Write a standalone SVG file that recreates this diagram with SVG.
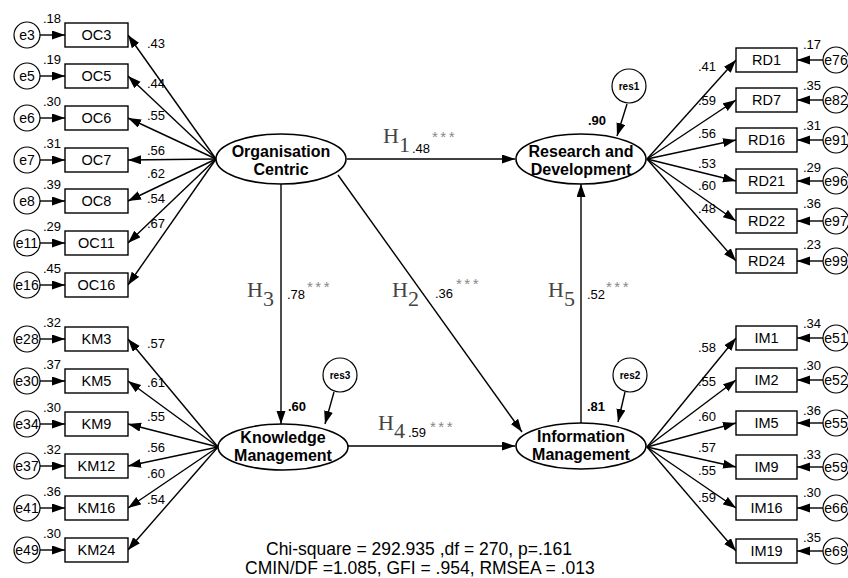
<svg xmlns="http://www.w3.org/2000/svg" width="848" height="578" viewBox="0 0 848 578">
<defs>
<marker id="ah" markerUnits="userSpaceOnUse" markerWidth="14" markerHeight="10" refX="13" refY="4.5" orient="auto">
<path d="M0,0 L13,4.5 L0,9 z" fill="#000"/>
</marker>
<style>
.ln{stroke:#000;stroke-width:1.4;fill:none;marker-end:url(#ah)}
.bx{fill:#fff;stroke:#000;stroke-width:1.4}
.ci{fill:#fff;stroke:#000;stroke-width:1.2}
.el{fill:#fff;stroke:#000;stroke-width:1.6}
.bt{font-family:"Liberation Sans",Arial,sans-serif;font-size:14.5px;text-anchor:middle;fill:#000}
.et{font-family:"Liberation Sans",Arial,sans-serif;font-size:14px;text-anchor:middle;fill:#000}
.nt{font-family:"Liberation Sans",Arial,sans-serif;font-size:13px;fill:#000}
.lt{font-family:"Liberation Sans",Arial,sans-serif;font-size:16px;font-weight:bold;text-anchor:middle;fill:#000}
.rt{font-family:"Liberation Sans",Arial,sans-serif;font-size:10px;font-weight:bold;text-anchor:middle;fill:#000}
.bn{font-family:"Liberation Sans",Arial,sans-serif;font-size:13px;font-weight:bold;fill:#000}
.h{font-family:"Liberation Serif","Times New Roman",serif;font-size:22px;fill:#444}
.st{font-family:"Liberation Sans",Arial,sans-serif;font-size:15px;letter-spacing:2.5px;fill:#888}
.ft{font-family:"Liberation Sans",Arial,sans-serif;font-size:17.5px;fill:#000}
</style>
</defs>
<rect width="848" height="578" fill="#fff"/>

<g id="connectors">
<line class="ln" x1="347" y1="159" x2="515" y2="159"/>
<line class="ln" x1="348" y1="446" x2="515" y2="446"/>
<line class="ln" x1="281" y1="184" x2="281" y2="424"/>
<line class="ln" x1="338" y1="175" x2="522" y2="432"/>
<line class="ln" x1="581" y1="423" x2="581" y2="184"/>
<line class="ln" x1="627" y1="104" x2="617" y2="136"/>
<line class="ln" x1="334" y1="392" x2="325" y2="424"/>
<line class="ln" x1="625" y1="392" x2="618" y2="422"/>
<line class="ln" x1="216" y1="159" x2="128" y2="35"/>
<line class="ln" x1="216" y1="159" x2="128" y2="76"/>
<line class="ln" x1="216" y1="159" x2="128" y2="118"/>
<line class="ln" x1="216" y1="159" x2="128" y2="160"/>
<line class="ln" x1="216" y1="159" x2="128" y2="201"/>
<line class="ln" x1="216" y1="159" x2="128" y2="243"/>
<line class="ln" x1="216" y1="159" x2="128" y2="285"/>
<line class="ln" x1="218" y1="447" x2="128" y2="339"/>
<line class="ln" x1="218" y1="447" x2="128" y2="381"/>
<line class="ln" x1="218" y1="447" x2="128" y2="424"/>
<line class="ln" x1="218" y1="447" x2="128" y2="466"/>
<line class="ln" x1="218" y1="447" x2="128" y2="508"/>
<line class="ln" x1="218" y1="447" x2="128" y2="550"/>
<line class="ln" x1="647" y1="159" x2="736" y2="60"/>
<line class="ln" x1="647" y1="159" x2="736" y2="100"/>
<line class="ln" x1="647" y1="159" x2="736" y2="140"/>
<line class="ln" x1="647" y1="159" x2="736" y2="181"/>
<line class="ln" x1="647" y1="159" x2="736" y2="221"/>
<line class="ln" x1="647" y1="159" x2="736" y2="261"/>
<line class="ln" x1="647" y1="447" x2="736" y2="338"/>
<line class="ln" x1="647" y1="447" x2="736" y2="380"/>
<line class="ln" x1="647" y1="447" x2="736" y2="423"/>
<line class="ln" x1="647" y1="447" x2="736" y2="467"/>
<line class="ln" x1="647" y1="447" x2="736" y2="508"/>
<line class="ln" x1="647" y1="447" x2="736" y2="551"/>
<line class="ln" x1="40" y1="35" x2="65" y2="35"/>
<line class="ln" x1="40" y1="76" x2="65" y2="76"/>
<line class="ln" x1="40" y1="118" x2="65" y2="118"/>
<line class="ln" x1="40" y1="160" x2="65" y2="160"/>
<line class="ln" x1="40" y1="201" x2="65" y2="201"/>
<line class="ln" x1="40" y1="243" x2="65" y2="243"/>
<line class="ln" x1="40" y1="285" x2="65" y2="285"/>
<line class="ln" x1="40" y1="339" x2="65" y2="339"/>
<line class="ln" x1="40" y1="381" x2="65" y2="381"/>
<line class="ln" x1="40" y1="424" x2="65" y2="424"/>
<line class="ln" x1="40" y1="466" x2="65" y2="466"/>
<line class="ln" x1="40" y1="508" x2="65" y2="508"/>
<line class="ln" x1="40" y1="550" x2="65" y2="550"/>
<line class="ln" x1="823" y1="60" x2="797" y2="60"/>
<line class="ln" x1="823" y1="100" x2="797" y2="100"/>
<line class="ln" x1="823" y1="140" x2="797" y2="140"/>
<line class="ln" x1="823" y1="181" x2="797" y2="181"/>
<line class="ln" x1="823" y1="221" x2="797" y2="221"/>
<line class="ln" x1="823" y1="261" x2="797" y2="261"/>
<line class="ln" x1="823" y1="338" x2="797" y2="338"/>
<line class="ln" x1="823" y1="380" x2="797" y2="380"/>
<line class="ln" x1="823" y1="423" x2="797" y2="423"/>
<line class="ln" x1="823" y1="467" x2="797" y2="467"/>
<line class="ln" x1="823" y1="508" x2="797" y2="508"/>
<line class="ln" x1="823" y1="551" x2="797" y2="551"/>
</g>

<g id="OC"><ellipse class="el" cx="281" cy="159" rx="65" ry="25"/><text class="lt" x="281" y="157">Organisation</text><text class="lt" x="281" y="175">Centric</text></g>
<g id="RD"><ellipse class="el" cx="581" cy="159" rx="65" ry="25"/><text class="lt" x="581" y="157">Research and</text><text class="lt" x="581" y="175">Development</text></g>
<g id="KM"><ellipse class="el" cx="283" cy="447" rx="65" ry="23"/><text class="lt" x="283" y="443">Knowledge</text><text class="lt" x="283" y="461">Management</text></g>
<g id="IM"><ellipse class="el" cx="581" cy="446" rx="65" ry="23"/><text class="lt" x="581" y="442">Information</text><text class="lt" x="581" y="460">Management</text></g>

<g id="res1"><circle class="ci" cx="629" cy="86" r="17"/><text class="rt" x="629" y="90">res1</text></g>
<g id="res3"><circle class="ci" cx="340" cy="375" r="17"/><text class="rt" x="340" y="379">res3</text></g>
<g id="res2"><circle class="ci" cx="630" cy="375" r="17"/><text class="rt" x="630" y="379">res2</text></g>
<text class="bn" x="588" y="125">.90</text>
<text class="bn" x="288" y="411">.60</text>
<text class="bn" x="587" y="411">.81</text>

<g id="OC3"><rect class="bx" x="65" y="23" width="63" height="24"/><text class="bt" x="96.5" y="40">OC3</text></g>
<g id="OC5"><rect class="bx" x="65" y="64" width="63" height="24"/><text class="bt" x="96.5" y="81">OC5</text></g>
<g id="OC6"><rect class="bx" x="65" y="106" width="63" height="24"/><text class="bt" x="96.5" y="123">OC6</text></g>
<g id="OC7"><rect class="bx" x="65" y="148" width="63" height="24"/><text class="bt" x="96.5" y="165">OC7</text></g>
<g id="OC8"><rect class="bx" x="65" y="189" width="63" height="24"/><text class="bt" x="96.5" y="206">OC8</text></g>
<g id="OC11"><rect class="bx" x="65" y="231" width="63" height="24"/><text class="bt" x="96.5" y="248">OC11</text></g>
<g id="OC16"><rect class="bx" x="65" y="273" width="63" height="24"/><text class="bt" x="96.5" y="290">OC16</text></g>
<g id="KM3"><rect class="bx" x="65" y="327" width="63" height="24"/><text class="bt" x="96.5" y="344">KM3</text></g>
<g id="KM5"><rect class="bx" x="65" y="369" width="63" height="24"/><text class="bt" x="96.5" y="386">KM5</text></g>
<g id="KM9"><rect class="bx" x="65" y="412" width="63" height="24"/><text class="bt" x="96.5" y="429">KM9</text></g>
<g id="KM12"><rect class="bx" x="65" y="454" width="63" height="24"/><text class="bt" x="96.5" y="471">KM12</text></g>
<g id="KM16"><rect class="bx" x="65" y="496" width="63" height="24"/><text class="bt" x="96.5" y="513">KM16</text></g>
<g id="KM24"><rect class="bx" x="65" y="538" width="63" height="24"/><text class="bt" x="96.5" y="555">KM24</text></g>
<g id="RD1"><rect class="bx" x="736" y="48" width="61" height="24"/><text class="bt" x="766.5" y="65">RD1</text></g>
<g id="RD7"><rect class="bx" x="736" y="88" width="61" height="24"/><text class="bt" x="766.5" y="105">RD7</text></g>
<g id="RD16"><rect class="bx" x="736" y="128" width="61" height="24"/><text class="bt" x="766.5" y="145">RD16</text></g>
<g id="RD21"><rect class="bx" x="736" y="169" width="61" height="24"/><text class="bt" x="766.5" y="186">RD21</text></g>
<g id="RD22"><rect class="bx" x="736" y="209" width="61" height="24"/><text class="bt" x="766.5" y="226">RD22</text></g>
<g id="RD24"><rect class="bx" x="736" y="249" width="61" height="24"/><text class="bt" x="766.5" y="266">RD24</text></g>
<g id="IM1"><rect class="bx" x="736" y="326" width="61" height="24"/><text class="bt" x="766.5" y="343">IM1</text></g>
<g id="IM2"><rect class="bx" x="736" y="368" width="61" height="24"/><text class="bt" x="766.5" y="385">IM2</text></g>
<g id="IM5"><rect class="bx" x="736" y="411" width="61" height="24"/><text class="bt" x="766.5" y="428">IM5</text></g>
<g id="IM9"><rect class="bx" x="736" y="455" width="61" height="24"/><text class="bt" x="766.5" y="472">IM9</text></g>
<g id="IM16"><rect class="bx" x="736" y="496" width="61" height="24"/><text class="bt" x="766.5" y="513">IM16</text></g>
<g id="IM19"><rect class="bx" x="736" y="539" width="61" height="24"/><text class="bt" x="766.5" y="556">IM19</text></g>

<g id="e3"><circle class="ci" cx="27" cy="35" r="13"/><text class="et" x="27" y="40">e3</text></g>
<g id="e5"><circle class="ci" cx="27" cy="76" r="13"/><text class="et" x="27" y="81">e5</text></g>
<g id="e6"><circle class="ci" cx="27" cy="118" r="13"/><text class="et" x="27" y="123">e6</text></g>
<g id="e7"><circle class="ci" cx="27" cy="160" r="13"/><text class="et" x="27" y="165">e7</text></g>
<g id="e8"><circle class="ci" cx="27" cy="201" r="13"/><text class="et" x="27" y="206">e8</text></g>
<g id="e11"><circle class="ci" cx="27" cy="243" r="13"/><text class="et" x="27" y="248">e11</text></g>
<g id="e16"><circle class="ci" cx="27" cy="285" r="13"/><text class="et" x="27" y="290">e16</text></g>
<g id="e28"><circle class="ci" cx="27" cy="339" r="13"/><text class="et" x="27" y="344">e28</text></g>
<g id="e30"><circle class="ci" cx="27" cy="381" r="13"/><text class="et" x="27" y="386">e30</text></g>
<g id="e34"><circle class="ci" cx="27" cy="424" r="13"/><text class="et" x="27" y="429">e34</text></g>
<g id="e37"><circle class="ci" cx="27" cy="466" r="13"/><text class="et" x="27" y="471">e37</text></g>
<g id="e41"><circle class="ci" cx="27" cy="508" r="13"/><text class="et" x="27" y="513">e41</text></g>
<g id="e49"><circle class="ci" cx="27" cy="550" r="13"/><text class="et" x="27" y="555">e49</text></g>
<g id="e76"><circle class="ci" cx="836" cy="60" r="13"/><text class="et" x="836" y="65">e76</text></g>
<g id="e82"><circle class="ci" cx="836" cy="100" r="13"/><text class="et" x="836" y="105">e82</text></g>
<g id="e91"><circle class="ci" cx="836" cy="140" r="13"/><text class="et" x="836" y="145">e91</text></g>
<g id="e96"><circle class="ci" cx="836" cy="181" r="13"/><text class="et" x="836" y="186">e96</text></g>
<g id="e97"><circle class="ci" cx="836" cy="221" r="13"/><text class="et" x="836" y="226">e97</text></g>
<g id="e99"><circle class="ci" cx="836" cy="261" r="13"/><text class="et" x="836" y="266">e99</text></g>
<g id="e51"><circle class="ci" cx="836" cy="338" r="13"/><text class="et" x="836" y="343">e51</text></g>
<g id="e52"><circle class="ci" cx="836" cy="380" r="13"/><text class="et" x="836" y="385">e52</text></g>
<g id="e55"><circle class="ci" cx="836" cy="423" r="13"/><text class="et" x="836" y="428">e55</text></g>
<g id="e59"><circle class="ci" cx="836" cy="467" r="13"/><text class="et" x="836" y="472">e59</text></g>
<g id="e66"><circle class="ci" cx="836" cy="508" r="13"/><text class="et" x="836" y="513">e66</text></g>
<g id="e69"><circle class="ci" cx="836" cy="551" r="13"/><text class="et" x="836" y="556">e69</text></g>

<g class="nt">
<text x="43" y="23">.18</text><text x="43" y="64">.19</text><text x="43" y="106">.30</text><text x="43" y="148">.31</text>
<text x="43" y="189">.39</text><text x="43" y="231">.29</text><text x="43" y="273">.45</text>
<text x="43" y="327">.32</text><text x="43" y="369">.37</text><text x="43" y="412">.30</text><text x="43" y="454">.32</text>
<text x="43" y="496">.36</text><text x="43" y="538">.30</text>
<text x="147" y="48">.43</text><text x="147" y="88">.44</text><text x="147" y="120">.55</text><text x="147" y="155">.56</text>
<text x="147" y="178">.62</text><text x="147" y="203">.54</text><text x="147" y="228">.67</text>
<text x="147" y="348">.57</text><text x="147" y="387">.61</text><text x="147" y="421">.55</text><text x="147" y="452">.56</text>
<text x="147" y="478">.60</text><text x="147" y="504">.54</text>
<text x="698" y="71">.41</text><text x="698" y="105">.59</text><text x="698" y="138">.56</text><text x="698" y="168">.53</text>
<text x="698" y="190">.60</text><text x="698" y="213">.48</text>
<text x="698" y="352">.58</text><text x="698" y="386">.55</text><text x="698" y="421">.60</text><text x="698" y="452">.57</text>
<text x="698" y="475">.55</text><text x="698" y="502">.59</text>
<text x="803" y="49">.17</text><text x="803" y="90">.35</text><text x="803" y="130">.31</text><text x="803" y="172">.29</text>
<text x="803" y="208">.36</text><text x="803" y="249">.23</text>
<text x="803" y="328">.34</text><text x="803" y="370">.30</text><text x="803" y="415">.36</text><text x="803" y="459">.33</text>
<text x="803" y="497">.30</text><text x="803" y="542">.35</text>
</g>

<g id="H1"><text class="h" x="383" y="143">H<tspan dy="9">1</tspan></text><text class="nt" x="412" y="153">.48</text><text class="st" x="432" y="142">***</text></g>
<g id="H3"><text class="h" x="247" y="297">H<tspan dy="9">3</tspan></text><text class="nt" x="287" y="299">.78</text><text class="st" x="307" y="292">***</text></g>
<g id="H2"><text class="h" x="392" y="297">H<tspan dy="9">2</tspan></text><text class="nt" x="435" y="298">.36</text><text class="st" x="456" y="289">***</text></g>
<g id="H5"><text class="h" x="548" y="297">H<tspan dy="9">5</tspan></text><text class="nt" x="587" y="299">.52</text><text class="st" x="606" y="292">***</text></g>
<g id="H4"><text class="h" x="378" y="430">H<tspan dy="8">4</tspan></text><text class="nt" x="408" y="437">.59</text><text class="st" x="430" y="432">***</text></g>

<text class="ft" x="266" y="555">Chi-square = 292.935 ,df = 270, p=.161</text>
<text class="ft" x="245" y="574">CMIN/DF =1.085, GFI = .954, RMSEA = .013</text>
</svg>
